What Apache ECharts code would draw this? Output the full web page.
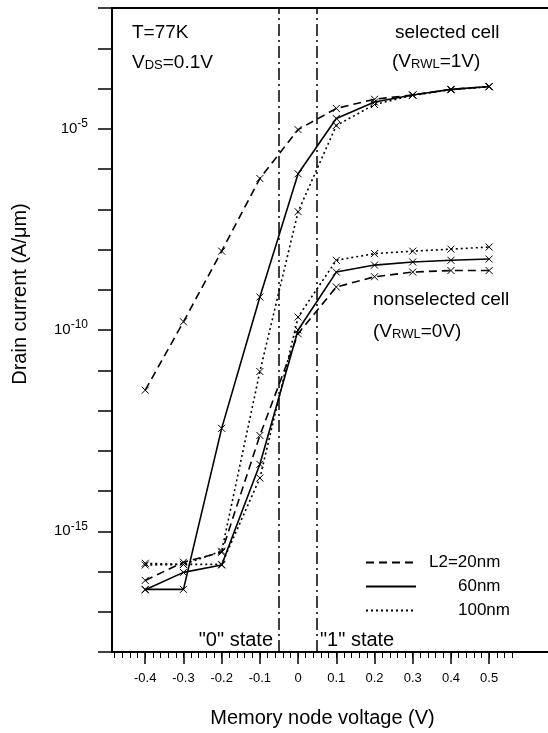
<!DOCTYPE html>
<html>
<head>
<meta charset="utf-8">
<title>Drain current vs memory node voltage</title>
<script src="https://cdn.jsdelivr.net/npm/echarts@6/dist/echarts.min.js"></script>
<style>
  html, body { margin: 0; padding: 0; background: #fff; }
  #chart { width: 548px; height: 733px; }
</style>
</head>
<body>
<div id="chart"></div>
<script>
// memory node voltage (V)
const voltages = [-0.4, -0.3, -0.2, -0.1, 0, 0.1, 0.2, 0.3, 0.4, 0.5];
const xTickLabels = [-0.4, -0.3, -0.2, -0.1, 0, 0.1, 0.2, 0.3, 0.4, 0.5];
const xMinorTicks = [-0.48, -0.46, -0.44, -0.42, -0.40, -0.38, -0.36, -0.34, -0.32, -0.30,
    -0.28, -0.26, -0.24, -0.22, -0.20, -0.18, -0.16, -0.14, -0.12, -0.10,
    -0.08, -0.06, -0.04, -0.02, 0, 0.02, 0.04, 0.06, 0.08, 0.10,
    0.12, 0.14, 0.16, 0.18, 0.20, 0.22, 0.24, 0.26, 0.28, 0.30,
    0.32, 0.34, 0.36, 0.38, 0.40, 0.42, 0.44, 0.46, 0.48, 0.50,
    0.52, 0.54, 0.56];
const yLabelExps = [-15, -10, -5];
const stateBounds = [-0.05, 0.05];

// drain current (A/um), selected cell (VRWL=1V)
const sel20 = [3.2e-12, 1.6e-10, 9.1e-9, 5.8e-7, 9.5e-6, 3.2e-5, 5.4e-5, 6.9e-5, 9.5e-5, 1.12e-4];
const sel60 = [3.6e-17, 3.6e-17, 3.6e-13, 6.6e-10, 7.6e-7, 1.8e-5, 4.6e-5, 6.9e-5, 9.5e-5, 1.12e-4];
const sel100 = [1.6e-16, 1.5e-16, 3.2e-16, 9.3e-12, 8.7e-8, 1.2e-5, 4.0e-5, 6.8e-5, 9.3e-5, 1.1e-4];
// nonselected cell (VRWL=0V)
const non20 = [6.0e-17, 1.7e-16, 3.0e-16, 2.4e-13, 8.1e-11, 1.17e-9, 2.1e-9, 2.75e-9, 3.0e-9, 3.0e-9];
const non60 = [3.5e-17, 9.5e-17, 1.45e-16, 4.6e-14, 1.0e-10, 2.75e-9, 4.1e-9, 4.9e-9, 5.4e-9, 5.8e-9];
const non100 = [1.45e-16, 1.5e-16, 1.5e-16, 2.1e-14, 2.1e-10, 5.4e-9, 7.9e-9, 9.1e-9, 1.02e-8, 1.15e-8];

const FONT = '"Liberation Sans", Arial, Helvetica, sans-serif';
const cross = 'path://M0,0L10,10M0,10L10,0';
const styles = {
    '20nm': { type: [8, 5], width: 1.6 },
    '60nm': { type: 'solid', width: 1.6 },
    '100nm': { type: [2, 3], width: 1.6 }
};

const makeSeries = (name, values, withMarks) => {
    const s = {
        name: name,
        type: 'line',
        data: voltages.map((v, i) => [v, values[i]]),
        symbol: cross,
        symbolSize: 7,
        lineStyle: Object.assign({ color: '#000' }, styles[name]),
        itemStyle: { color: '#000', borderColor: '#000', borderWidth: 1 },
        emphasis: { disabled: true },
        animation: false
    };
    if (withMarks) {
        s.markLine = {
            silent: true,
            symbol: ['none', 'none'],
            label: { show: false },
            lineStyle: { color: '#000', width: 1.5, type: [12, 4, 2, 4] },
            data: stateBounds.map(b => ({ xAxis: b }))
        };
    }
    return s;
};

const text = (x, y, str, extra) => Object.assign({
    type: 'text',
    x: x,
    y: y,
    style: Object.assign({
        text: str,
        fontSize: 19,
        fontFamily: FONT,
        fill: '#000',
        textVerticalAlign: 'middle'
    }, extra || {})
});

const sub = { fontSize: 13, fontFamily: FONT, verticalAlign: 'bottom', lineHeight: 13, padding: [0, 0, 2, 0] };

const chart = echarts.init(document.getElementById('chart'));
chart.setOption({
    backgroundColor: '#fff',
    animation: false,
    grid: { left: 112, right: 0, top: 8, bottom: 79 },
    legend: {
        data: ['20nm', '60nm', '100nm'],
        orient: 'vertical',
        left: 365,
        top: 554,
        padding: 0,
        itemWidth: 50,
        itemHeight: 14,
        itemGap: 7,
        selectedMode: false,
        itemStyle: { opacity: 0 },
        textStyle: {
            fontSize: 17, fontFamily: FONT, color: '#000', lineHeight: 16,
            rich: { s: { width: 8 }, w: { width: 37 } }
        },
        formatter: name => name === '20nm' ? '{s| }L2=' + name : '{w| }' + name
    },
    xAxis: [
        {
            type: 'value',
            min: -0.487,
            max: 0.654,
            position: 'bottom',
            axisLine: { lineStyle: { color: '#000', width: 2 } },
            axisTick: { customValues: xTickLabels, length: 12, lineStyle: { color: '#000', width: 1.5 } },
            axisLabel: { customValues: xTickLabels, margin: 20, fontSize: 13, fontFamily: FONT, color: '#000' },
            splitLine: { show: false },
            name: 'Memory node voltage (V)',
            nameLocation: 'middle',
            nameGap: 56,
            nameTextStyle: { fontSize: 20, fontFamily: FONT, color: '#000', padding: [0, 15, 0, 0] }
        },
        {
            type: 'value',
            min: -0.487,
            max: 0.654,
            position: 'bottom',
            axisLine: { show: false },
            axisTick: { customValues: xMinorTicks, length: 6, lineStyle: { color: '#000', width: 1 } },
            axisLabel: { show: false },
            splitLine: { show: false }
        },
        {
            type: 'value',
            min: -0.487,
            max: 0.654,
            position: 'top',
            axisLine: { lineStyle: { color: '#000', width: 2 } },
            axisTick: { show: false },
            axisLabel: { show: false },
            splitLine: { show: false }
        }
    ],
    yAxis: {
        type: 'log',
        logBase: 10,
        min: 1e-18,
        max: 1e-2,
        interval: 1,
        axisLine: { show: true, onZero: false, lineStyle: { color: '#000', width: 2 } },
        axisTick: { length: 14, lineStyle: { color: '#000', width: 1.5 } },
        axisLabel: {
            margin: 24,
            color: '#000',
            formatter: v => {
                const e = Math.round(Math.log10(v));
                return yLabelExps.includes(e) ? '{b|10}{e|' + e + '}' : '';
            },
            rich: {
                b: { fontSize: 15, fontFamily: FONT, color: '#000', lineHeight: 22, verticalAlign: 'middle' },
                e: { fontSize: 12, fontFamily: FONT, color: '#000', lineHeight: 11, verticalAlign: 'top' }
            }
        },
        splitLine: { show: false },
        minorTick: { show: false },
        name: 'Drain current (A/\u03bcm)',
        nameLocation: 'middle',
        nameGap: 82,
        nameTextStyle: { fontSize: 20, fontFamily: FONT, color: '#000', padding: [0, 0, 0, 72] }
    },
    series: [
        makeSeries('20nm', sel20, true),
        makeSeries('60nm', sel60),
        makeSeries('100nm', sel100),
        makeSeries('20nm', non20),
        makeSeries('60nm', non60),
        makeSeries('100nm', non100)
    ],
    graphic: [
        text(132, 33, 'T=77K'),
        text(132, 63, 'V{s|DS}=0.1V', { lineHeight: 22, rich: { s: sub } }),
        text(395, 33, 'selected cell'),
        text(392, 62, '(V{s|RWL}=1V)', { lineHeight: 22, rich: { s: sub } }),
        text(373, 300, 'nonselected cell'),
        text(373, 332, '(V{s|RWL}=0V)', { lineHeight: 22, rich: { s: sub } }),
        text(273, 640, '"0" state', { fontSize: 20, textAlign: 'right' }),
        text(320, 640, '"1" state', { fontSize: 20 })
    ]
});
</script>
</body>
</html>
